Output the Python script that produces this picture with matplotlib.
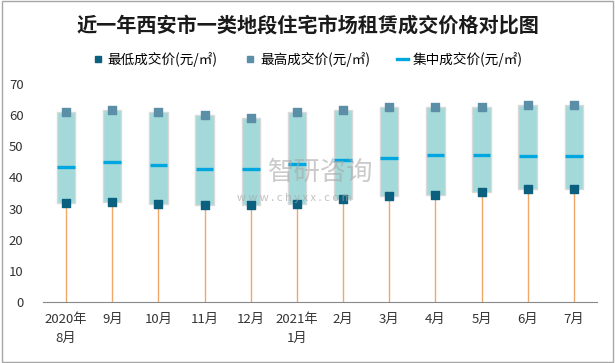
import matplotlib.pyplot as plt
from matplotlib.lines import Line2D
from matplotlib.patches import Rectangle

plt.rcParams['font.family'] = ['Noto Sans CJK SC', 'DejaVu Sans']

# Data
months = ['2020年\n8月', '9月', '10月', '11月', '12月', '2021年\n1月',
          '2月', '3月', '4月', '5月', '6月', '7月']
low_price = [31.8, 32.2, 31.5, 31.2, 31.2, 31.5, 33.1, 34.1, 34.4, 35.4, 36.3, 36.3]
high_price = [60.9, 61.8, 60.9, 60.0, 59.2, 60.9, 61.8, 62.5, 62.5, 62.5, 63.1, 63.1]
mid_price = [43.4, 45.0, 44.1, 42.8, 42.8, 44.4, 45.7, 46.4, 47.3, 47.3, 47.0, 47.0]

x = list(range(len(months)))
heights = [h - l for h, l in zip(high_price, low_price)]

fig = plt.figure(figsize=(6.15, 3.63), dpi=100)
ax = fig.add_axes([0.0699, 0.168, 0.9008, 0.6006])

# orange stems from the axis up to the lowest price
ax.vlines(x, 0, low_price, color='#f0a868', linewidth=1, zorder=1)
# range box
ax.bar(x, heights, bottom=low_price, width=0.4, color='#a3d9d8',
       edgecolor='#d9d9d9', linewidth=1, zorder=2)
# median line
ax.hlines(mid_price, [i - 0.19 for i in x], [i + 0.19 for i in x],
          color='#00a6e0', linewidth=2.4, zorder=3)
ax.scatter(x, low_price, marker='s', s=30, color='#0b5f7f', zorder=4)
ax.scatter(x, high_price, marker='s', s=30, color='#5b8fa8', zorder=4)

ax.set_xlim(-0.5, len(months) - 0.5)
ax.set_ylim(0, 70)
ax.set_yticks(range(0, 71, 10))
ax.set_xticks(x)
ax.set_xticklabels(months, fontsize=9.5, color='#333333', linespacing=1.6)
ax.tick_params(axis='y', labelsize=9.5, colors='#333333', length=0, pad=14)
ax.tick_params(axis='x', length=0, pad=8)
for side in ['left', 'right', 'top']:
    ax.spines[side].set_visible(False)
ax.spines['bottom'].set_color('#898989')

fig.text(0.5, 0.93, '近一年西安市一类地段住宅市场租赁成交价格对比图',
         ha='center', va='center', fontsize=14.5, fontweight='bold', color='#1a1a1a')

handles = [
    Line2D([], [], marker='s', linestyle='none', color='#0b5f7f', markersize=5),
    Line2D([], [], marker='s', linestyle='none', color='#5b8fa8', markersize=5),
    Line2D([], [], color='#00a6e0', linewidth=2.4),
]
labels = ['最低成交价(元/㎡)', '最高成交价(元/㎡)', '集中成交价(元/㎡)']
fig.legend(handles, labels, loc='center', bbox_to_anchor=(0.5, 0.837), ncol=3,
           frameon=False, fontsize=9.8, handlelength=0.8, handletextpad=0.3,
           columnspacing=2.0)

# watermark
fig.text(0.435, 0.525, '智研咨询', fontsize=19, color='#a8a8a8', alpha=0.6,
         ha='left', va='center')
fig.text(0.385, 0.455, 'w w w . c h y x x . c o m', fontsize=8, color='#a8a8a8',
         alpha=0.7, ha='left', va='center')

fig.patches.append(Rectangle((0.003, 0.003), 0.994, 0.994, transform=fig.transFigure,
                             fill=False, edgecolor='#a6a6a6', linewidth=1))

fig.savefig('out.png', dpi=100)
